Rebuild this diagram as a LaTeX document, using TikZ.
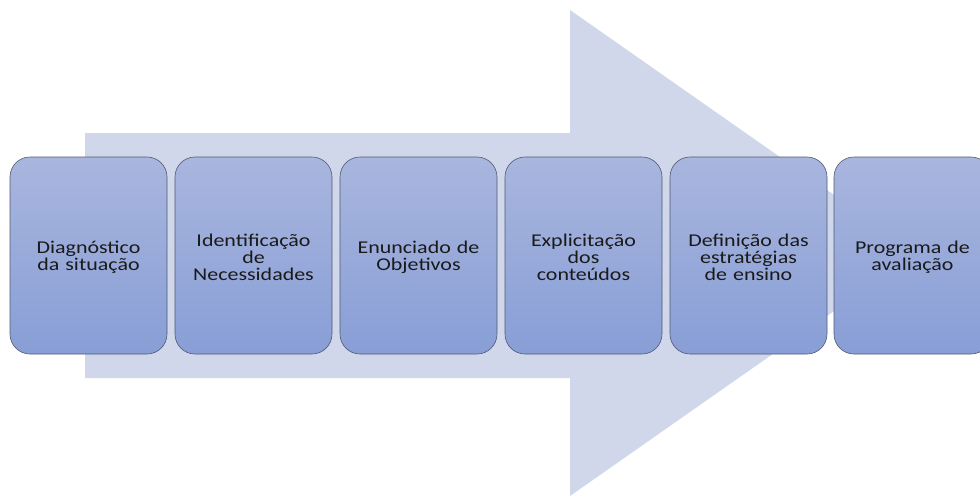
\documentclass[tikz,border=0pt]{standalone}
\usepackage{fontspec}
\setmainfont{Carlito}[FakeStretch=1.22]
\definecolor{arrowfill}{HTML}{D0D7EB}
\definecolor{boxtop}{HTML}{A9B6DE}
\definecolor{boxbottom}{HTML}{889ED6}
\definecolor{boxline}{HTML}{4F5A70}
\definecolor{textcol}{HTML}{1A1A1A}
\begin{document}
\begin{tikzpicture}[x=1pt,y=-1pt,
  stepbox/.style={rounded corners=20pt, draw=boxline, line width=0.6pt,
    top color=boxtop, bottom color=boxbottom,
    minimum width=157pt, minimum height=197pt, inner sep=0pt},
  steptext/.style={inner sep=0pt, text width=150pt, align=center,
    font=\fontsize{18}{17}\selectfont, text=textcol},
  bigarrow/.style={fill=arrowfill, draw=none}]
\useasboundingbox (0,0) rectangle (980,496);
\clip (0,0) rectangle (980,496);
% background process arrow
\fill[bigarrow] (85,133) -- (570,133) -- (570,10) -- (917,253)
  -- (570,496) -- (570,378) -- (85,378) -- cycle;
% process steps
\node[stepbox] (s1) at (88.5,255.5) {};
\node[stepbox] (s2) at (253.5,255.5) {};
\node[stepbox] (s3) at (418.5,255.5) {};
\node[stepbox] (s4) at (583.5,255.5) {};
\node[stepbox] (s5) at (748.5,255.5) {};
\node[stepbox] (s6) at (912.5,255.5) {};
% step labels, set slightly below the box centres
\node[steptext] (t1) at ([yshift=-2pt]s1.center) {Diagnóstico\\da situação};
\node[steptext] (t2) at ([yshift=-2pt]s2.center) {Identificação\\de\\Necessidades};
\node[steptext] (t3) at ([yshift=-2pt]s3.center) {Enunciado de\\Objetivos};
\node[steptext] (t4) at ([yshift=-2pt]s4.center) {Explicitação\\dos\\conteúdos};
\node[steptext] (t5) at ([yshift=-2pt]s5.center) {Definição das\\estratégias\\de ensino};
\node[steptext] (t6) at ([yshift=-2pt]s6.center) {Programa de\\avaliação};
\end{tikzpicture}
\end{document}
